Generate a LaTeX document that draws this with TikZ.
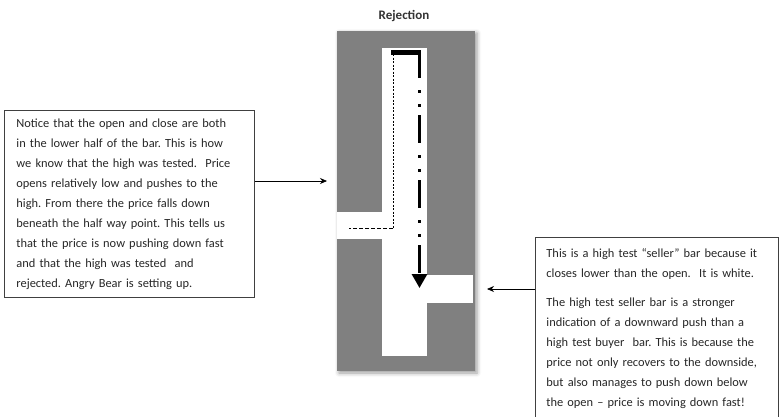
\documentclass[tikz,border=0pt]{standalone}
\usepackage{fontspec}
\setmainfont{Carlito}
\usetikzlibrary{arrows.meta,shadows.blur}
\frenchspacing

\begin{document}
\begin{tikzpicture}[x=1pt,y=-1pt,
	note/.style={draw=black!75,line width=0.9pt,align=left,anchor=north west,
		font=\fontsize{12.4}{20}\selectfont,text=black!85},
	pointer/.style={-{Stealth[length=7pt,width=6pt]},line width=0.7pt}]
	\useasboundingbox (0,0) rectangle (779,416);
	\node (title) at (404,16) {\fontsize{13}{15}\selectfont\bfseries\color{black!80}Rejection};
	\node (panel) [fill=black!50,minimum width=138pt,minimum height=340pt,inner sep=0pt,
		blur shadow={shadow xshift=2pt,shadow yshift=-2pt,shadow blur radius=4pt}] at (406,201) {};
	% candle body and ticks
	\fill[white] (382,48) rectangle (427,356);
	\fill[white] (337,212) rectangle (382,239);
	\fill[white] (427,275) rectangle (473,303);
	% price path
	\draw[line width=0.7pt,dash pattern=on 2pt off 1.5pt] (393,54) -- (393,228);
	\draw[line width=0.7pt,dash pattern=on 4pt off 2pt] (393,228) -- (349,228);
	\draw[line width=5pt] (391,52) -- (421,52);
	\draw[line width=3pt,dash pattern=on 28pt off 12pt on 3pt off 11pt on 3pt off 8pt,
		-{Triangle[length=14pt,width=15pt]}] (419.5,50) -- (419.5,288);
	% notes
	\node (leftnote) [note,inner xsep=12pt,text width=226pt,minimum height=187pt] at (4,110) {%
		\rule{0pt}{6pt}Notice that the open and close are both\\
		in the lower half of the bar. This is how\\
		we know that the high was tested.\ \ Price\\
		opens relatively low and pushes to the\\
		high. From there the price falls down\\
		beneath the half way point. This tells us\\
		that the price is now pushing down fast\\
		and that the high was tested\ \ and\\
		rejected. Angry Bear is setting up.};
	\node (rightnote) [note,inner xsep=11pt,inner ysep=11pt,text width=221pt] at (535,237) {%
		This is a high test “seller” bar because it\\
		closes lower than the open.\ \ It is white.\\[9pt]
		The high test seller bar is a stronger\\
		indication of a downward push than a\\
		high test buyer\ \ bar. This is because the\\
		price not only recovers to the downside,\\
		but also manages to push down below\\
		the open -- price is moving down fast!};
	\coordinate (lefttip) at (327,181);
	\coordinate (righttip) at (487,289);
	\draw [pointer] (leftnote.east |- lefttip) -- (lefttip);
	\draw [pointer] (rightnote.west |- righttip) -- (righttip);
\end{tikzpicture}
\end{document}
